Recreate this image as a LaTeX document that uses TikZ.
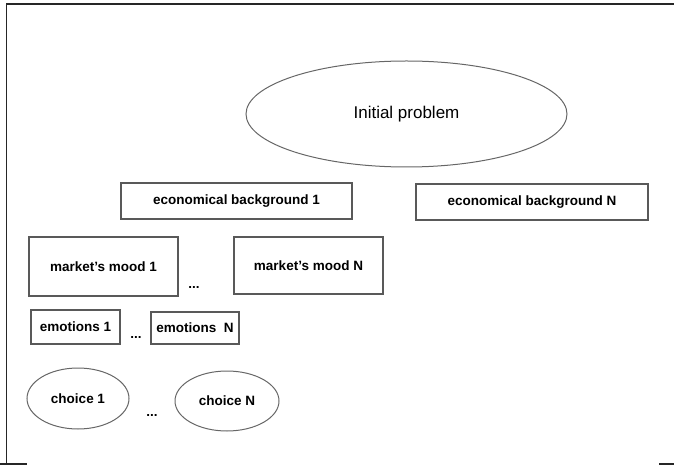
\documentclass[tikz,border=0pt]{standalone}
\usepackage{fontspec}
\setmainfont{Liberation Sans}
\usetikzlibrary{shapes.geometric}

\begin{document}
\begin{tikzpicture}[x=1bp, y=-1bp,
  every node/.style = {inner sep=0pt,
    font=\bfseries\fontsize{13.5bp}{16bp}\selectfont},
  box/.style 2 args = {shape=rectangle, draw=black!65, line width=1.3bp,
    minimum width=#1bp, minimum height=#2bp},
  oval/.style 2 args = {shape=ellipse, draw=black!60, line width=1bp,
    minimum width=#1bp, minimum height=#2bp},
  frame/.style = {draw=black!85, line width=1.5bp}]
  \useasboundingbox (0,0) rectangle (674,466);
  % outer frame
  \coordinate (tl) at (6.5,4);
  \coordinate (tr) at (674,4);
  \coordinate (bl) at (6.5,464);
  \draw[frame] (tr) -- (tl) -- (bl);
  \draw[frame] (0,464) -- (27,464);
  \draw[frame] (659,464) -- (674,464);
  % top
  \node[oval={321}{106}, font=\mdseries\fontsize{17bp}{20bp}\selectfont]
    (init) at (406.5,114) {Initial problem};
  % backgrounds
  \node[box={231}{36}] (econ1) at (236.5,201) {economical background 1};
  \node[box={232}{36}] (econN) at (532,202) {economical background N};
  % moods
  \node[box={149}{59}] (mood1) at (103.5,266.5) {market's mood 1};
  \node[box={149}{57}] (moodN) at (308.5,265.5) {market's mood N};
  \node[anchor=base] (dotsA) at (194,289) {...};
  % emotions
  \node[box={89}{34}] (emo1) at (75.5,327) {emotions 1};
  \node[box={88}{32}] (emoN) at (195,328) {emotions~~N};
  \node[anchor=base] (dotsB) at (136,338) {...};
  % choices
  \node[oval={102}{61}] (cho1) at (78,398.5) {choice 1};
  \node[oval={104}{60}] (choN) at (227,401) {choice N};
  \node[anchor=base] (dotsC) at (152,416) {...};
\end{tikzpicture}
\end{document}
